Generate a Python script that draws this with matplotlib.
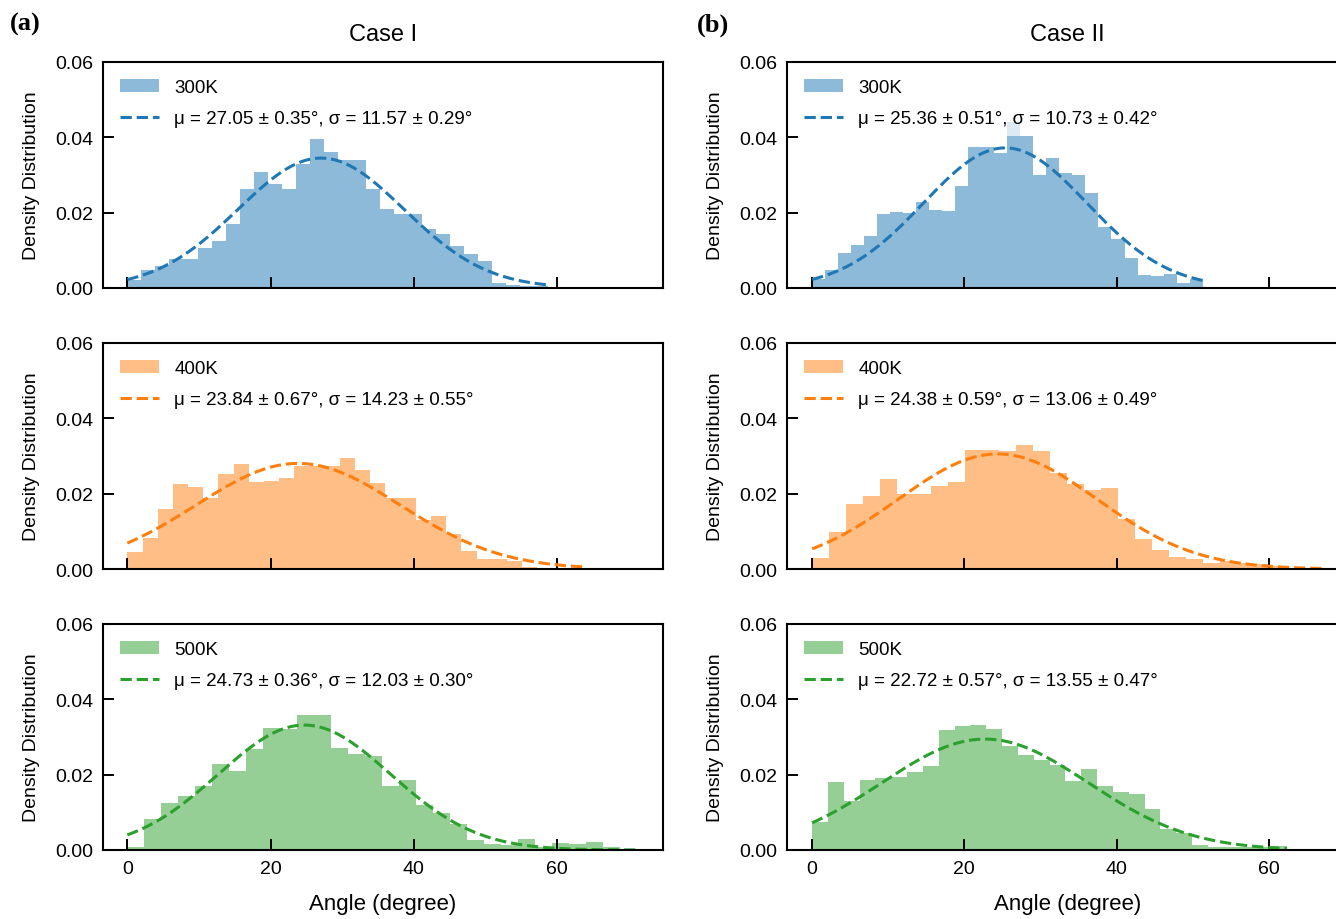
import numpy as np
import matplotlib
matplotlib.use("Agg")
import matplotlib.pyplot as plt

plt.rcParams['font.family'] = ['Liberation Sans', 'DejaVu Sans']

# temperatures and colours shared by both cases
temps = ['300K', '400K', '500K']
colors = ['#1f77b4', '#ff7f0e', '#2ca02c']

# Case I: histogram bin width (deg) and density of each bin (30 bins from 0 deg)
case1_bin_width = [1.96, 2.12, 2.37]
case1_300 = [0.0022, 0.0049, 0.0058, 0.0078, 0.0078, 0.0107, 0.0125, 0.0171, 0.0263, 0.0308,
             0.0277, 0.0263, 0.0330, 0.0395, 0.0360, 0.0341, 0.0341, 0.0263, 0.0210, 0.0196,
             0.0196, 0.0156, 0.0143, 0.0112, 0.0089, 0.0071, 0.0012, 0.0009, 0.0006, 0.0004]
case1_400 = [0.0045, 0.0082, 0.0160, 0.0225, 0.0219, 0.0188, 0.0253, 0.0280, 0.0232, 0.0234,
             0.0241, 0.0274, 0.0274, 0.0274, 0.0296, 0.0263, 0.0228, 0.0188, 0.0188, 0.0129,
             0.0141, 0.0094, 0.0047, 0.0027, 0.0026, 0.0022, 0.0006, 0.0004, 0.0002, 0.0001]
case1_500 = [0.0009, 0.0081, 0.0126, 0.0143, 0.0170, 0.0229, 0.0209, 0.0269, 0.0323, 0.0321,
             0.0359, 0.0359, 0.0272, 0.0255, 0.0250, 0.0169, 0.0185, 0.0119, 0.0097, 0.0070,
             0.0027, 0.0016, 0.0014, 0.0030, 0.0009, 0.0018, 0.0016, 0.0022, 0.0009, 0.0003]
case1_mu = [27.05, 23.84, 24.73]
case1_mu_err = [0.35, 0.67, 0.36]
case1_sigma = [11.57, 14.23, 12.03]
case1_sigma_err = [0.29, 0.55, 0.30]

# Case II
case2_bin_width = [1.71, 2.23, 2.08]
case2_300 = [0.0025, 0.0049, 0.0094, 0.0115, 0.0137, 0.0196, 0.0202, 0.0200, 0.0227, 0.0207,
             0.0204, 0.0270, 0.0375, 0.0375, 0.0358, 0.0404, 0.0404, 0.0300, 0.0346, 0.0306,
             0.0299, 0.0252, 0.0162, 0.0130, 0.0079, 0.0034, 0.0031, 0.0036, 0.0013, 0.0025]
case2_400 = [0.0029, 0.0099, 0.0173, 0.0195, 0.0238, 0.0200, 0.0198, 0.0220, 0.0232, 0.0315,
             0.0315, 0.0312, 0.0328, 0.0312, 0.0254, 0.0227, 0.0210, 0.0214, 0.0132, 0.0081,
             0.0051, 0.0031, 0.0027, 0.0016, 0.0021, 0.0016, 0.0013, 0.0007, 0.0004, 0.0004]
case2_500 = [0.0073, 0.0180, 0.0131, 0.0186, 0.0190, 0.0194, 0.0208, 0.0222, 0.0318, 0.0330,
             0.0331, 0.0320, 0.0275, 0.0253, 0.0238, 0.0226, 0.0184, 0.0214, 0.0169, 0.0155,
             0.0148, 0.0110, 0.0056, 0.0045, 0.0013, 0.0007, 0.0007, 0.0007, 0.0007, 0.0011]
case2_mu = [25.36, 24.38, 22.72]
case2_mu_err = [0.51, 0.59, 0.57]
case2_sigma = [10.73, 13.06, 13.55]
case2_sigma_err = [0.42, 0.49, 0.47]

# faint overflow on one bin of Case II 300K
case2_300_extra_bin = 15
case2_300_extra_top = 0.0440

cases = [
    dict(title='Case I', tag='(a)', widths=case1_bin_width, hists=[case1_300, case1_400, case1_500],
         mu=case1_mu, mu_err=case1_mu_err, sigma=case1_sigma, sigma_err=case1_sigma_err),
    dict(title='Case II', tag='(b)', widths=case2_bin_width, hists=[case2_300, case2_400, case2_500],
         mu=case2_mu, mu_err=case2_mu_err, sigma=case2_sigma, sigma_err=case2_sigma_err),
]

W, H = 1336, 920
fig = plt.figure(figsize=(W / 100, H / 100), dpi=100)

col_left = [103 / W, 787 / W]
col_width = [560 / W, 561 / W]
col_xlim = [(-3.4, 74.8), (-3.3, 70.4)]
row_bottom = [0.6859, 0.3804, 0.075]
row_height = 0.2457
tag_x = [0.0075, 0.5217]

for c, case in enumerate(cases):
    for r in range(3):
        ax = fig.add_axes([col_left[c], row_bottom[r], col_width[c], row_height])
        heights = np.array(case['hists'][r])
        edges = np.arange(len(heights) + 1) * case['widths'][r]
        ax.stairs(heights, edges, fill=True, color=colors[r], alpha=0.5,
                  linewidth=0, label=temps[r])
        if c == 1 and r == 0:
            i = case2_300_extra_bin
            ax.bar(edges[i], case2_300_extra_top - heights[i], bottom=heights[i],
                   width=edges[i + 1] - edges[i], align='edge', color=colors[r],
                   alpha=0.15, linewidth=0)

        mu, sig = case['mu'][r], case['sigma'][r]
        x = np.linspace(edges[0], edges[-1], 400)
        pdf = np.exp(-0.5 * ((x - mu) / sig) ** 2) / (sig * np.sqrt(2 * np.pi))
        label = (f"μ = {mu:.2f} ± {case['mu_err'][r]:.2f}°, "
                 f"σ = {sig:.2f} ± {case['sigma_err'][r]:.2f}°")
        ax.plot(x, pdf, '--', color=colors[r], lw=2.2, label=label)

        ax.set_xlim(*col_xlim[c])
        ax.set_ylim(0, 0.06)
        ax.set_yticks([0, 0.02, 0.04, 0.06])
        ax.set_yticklabels(['0.00', '0.02', '0.04', '0.06'])
        ax.set_xticks([0, 20, 40, 60])
        ax.tick_params(direction='in', length=8, width=1.4, labelsize=14, pad=7)
        if r < 2:
            ax.tick_params(labelbottom=False)
        else:
            ax.set_xlabel('Angle (degree)', fontsize=16, labelpad=12)
        for s in ax.spines.values():
            s.set_linewidth(1.5)
        ax.set_ylabel('Density Distribution', fontsize=14, labelpad=11)
        ax.legend(loc='upper left', frameon=False, fontsize=13.5,
                  handlelength=2.1, handletextpad=0.8, labelspacing=0.75)
        if r == 0:
            ax.set_title(case['title'], fontsize=17, pad=16)

    fig.text(tag_x[c], 0.973, case['tag'], fontfamily=['Liberation Serif', 'DejaVu Serif'],
             fontweight='bold', fontsize=19, va='center', ha='left')

fig.savefig('out.png', dpi=100)
